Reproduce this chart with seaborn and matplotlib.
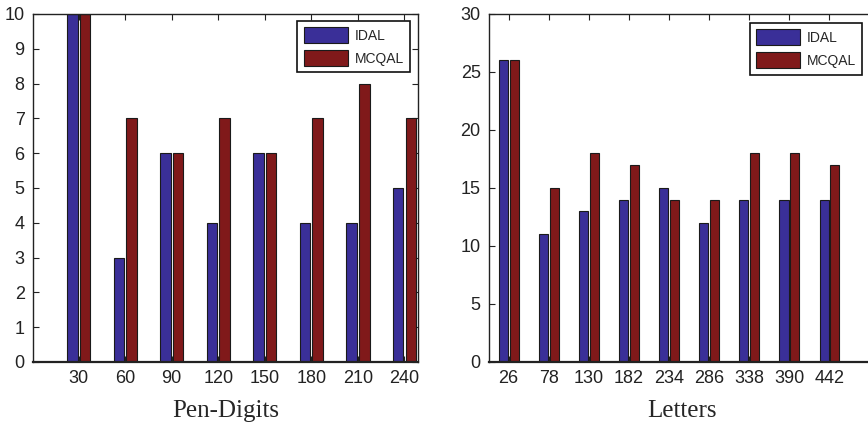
import matplotlib
matplotlib.use('Agg')

import matplotlib.pyplot as plt
from matplotlib.patches import Patch
import seaborn as sns
import pandas as pd

# Pen-Digits panel
pen_sizes = [30, 60, 90, 120, 150, 180, 210, 240]
pen_idal = [10, 3, 6, 4, 6, 4, 4, 5]
pen_mcqal = [10, 7, 6, 7, 6, 7, 8, 7]

# Letters panel
let_sizes = [26, 78, 130, 182, 234, 286, 338, 390, 442]
let_idal = [26, 11, 13, 14, 15, 12, 14, 14, 14]
let_mcqal = [26, 15, 18, 17, 14, 14, 18, 18, 17]

methods = ['IDAL', 'MCQAL']
colors = ['#3a2f98', '#80191a']

sns.set_style('ticks')
plt.rcParams['font.family'] = ['Liberation Sans', 'DejaVu Sans']
plt.rcParams['axes.edgecolor'] = '#222222'
plt.rcParams['axes.linewidth'] = 1.0


def panel(ax, sizes, idal, mcqal, ymax, ystep, xlim, xlabel, anchor):
    order = [str(s) for s in sizes]
    df = pd.DataFrame({
        'size': order * 2,
        'value': idal + mcqal,
        'method': [methods[0]] * len(sizes) + [methods[1]] * len(sizes),
    })
    sns.barplot(data=df, x='size', y='value', hue='method', order=order,
                hue_order=methods, palette=colors, saturation=1,
                width=0.54, gap=0.16, edgecolor='#1a1a1a', linewidth=0.8,
                ax=ax, legend=False)
    ax.set_ylim(0, ymax)
    ax.set_yticks(range(0, ymax + 1, ystep))
    ax.set_xlim(*xlim)
    ax.set_ylabel('')
    ax.set_xlabel(xlabel, family=['Liberation Serif', 'DejaVu Serif'],
                  fontsize=18, labelpad=9)
    ax.tick_params(direction='in', top=True, right=True, length=4,
                   width=0.8, labelsize=13, colors='#222222')
    ax.tick_params(axis='x', pad=6)
    ax.tick_params(axis='y', pad=6)
    ax.spines['bottom'].set_linewidth(1.6)
    handles = [Patch(facecolor=c, edgecolor='#1a1a1a', linewidth=0.8) for c in colors]
    leg = ax.legend(handles, methods, loc='upper right', bbox_to_anchor=anchor,
                    borderaxespad=0, frameon=True, fancybox=False, framealpha=1,
                    edgecolor='#111111', fontsize=10, handlelength=3.2,
                    handleheight=1.4, handletextpad=0.45, labelspacing=0.5,
                    borderpad=0.45)
    leg.get_frame().set_linewidth(1.2)


fig = plt.figure(figsize=(8.68, 4.25), dpi=100)
ax1 = fig.add_axes([33 / 868, 63 / 425, 385 / 868, 348 / 425])
ax2 = fig.add_axes([489 / 868, 63 / 425, 385 / 868, 348 / 425])

panel(ax1, pen_sizes, pen_idal, pen_mcqal, 10, 1, (-0.98, 7.29),
      'Pen-Digits', (0.979, 0.980))
panel(ax2, let_sizes, let_idal, let_mcqal, 30, 5, (-0.49, 9.11),
      'Letters', (0.969, 0.974))

fig.savefig('out.png', dpi=100)
plt.close(fig)
